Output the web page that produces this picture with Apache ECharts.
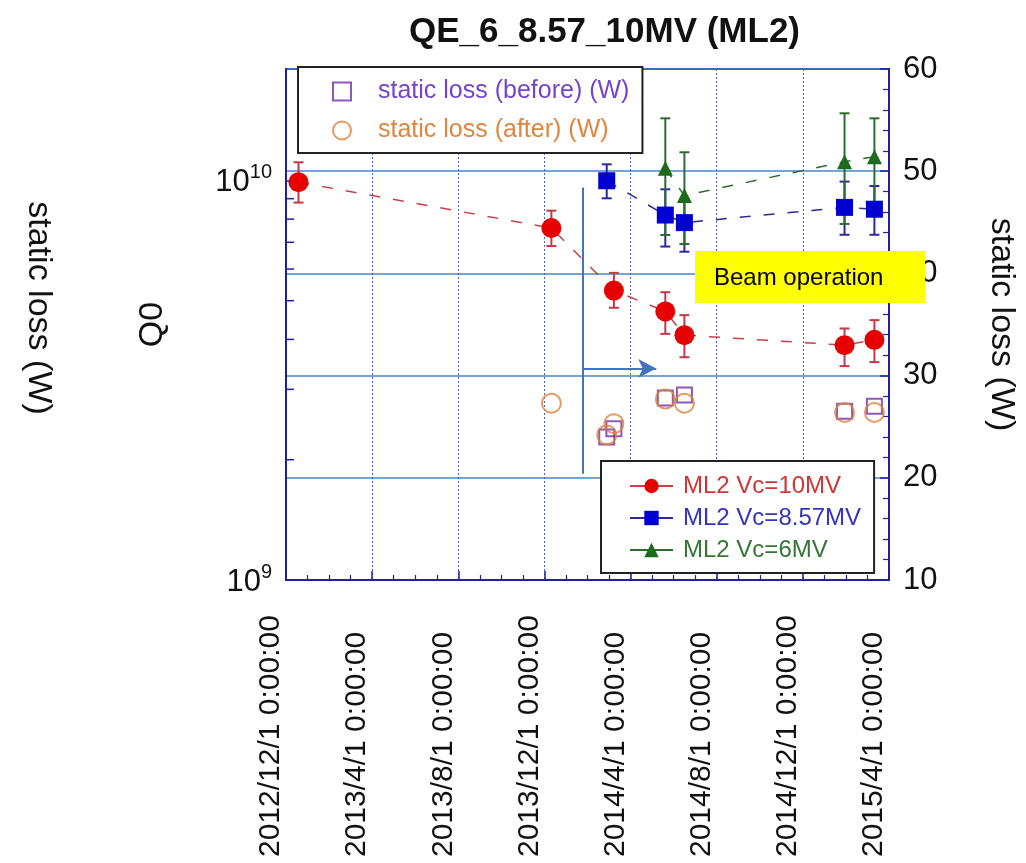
<!DOCTYPE html>
<html><head><meta charset="utf-8">
<script src="https://cdn.jsdelivr.net/npm/echarts@6/dist/echarts.min.js"></script>
<style>html,body{margin:0;padding:0;background:#fff}#c{width:1026px;height:863px}</style>
</head><body><div id="c"></div>
<script>
const FONT = 'Liberation Sans, Arial, sans-serif';

// ---- data ----
const xTickLabels = ['2012/12/1 0:00:00','2013/4/1 0:00:00','2013/8/1 0:00:00','2013/12/1 0:00:00',
  '2014/4/1 0:00:00','2014/8/1 0:00:00','2014/12/1 0:00:00','2015/4/1 0:00:00'];

const dates10 = ['2012-12-19','2013-12-11','2014-03-08','2014-05-20','2014-06-16','2015-01-30','2015-03-11'];
const q10     = [9.9e9, 7.6e9, 5.3e9, 4.7e9, 4.1e9, 3.87e9, 3.99e9];
const q10Lo   = [8.8e9, 6.85e9, 4.8e9, 4.13e9, 3.61e9, 3.43e9, 3.51e9];
const q10Hi   = [1.11e10, 8.4e9, 5.87e9, 5.25e9, 4.6e9, 4.26e9, 4.47e9];

const dates857 = ['2014-02-26','2014-05-20','2014-06-16','2015-01-30','2015-03-11'];
const q857     = [9.98e9, 8.19e9, 7.84e9, 8.56e9, 8.47e9];
const q857Lo   = [9.02e9, 6.83e9, 6.63e9, 7.31e9, 7.31e9];
const q857Hi   = [1.097e10, 9.5e9, 9.0e9, 9.93e9, 9.68e9];

const dates6 = ['2014-05-20','2014-06-16','2015-01-30','2015-03-11'];
const q6     = [1.072e10, 9.16e9, 1.114e10, 1.146e10];
const q6Lo   = [7.3e9, 6.93e9, 7.78e9, 8.6e9];
const q6Hi   = [1.43e10, 1.176e10, 1.472e10, 1.43e10];

const lossDatesBefore = ['2014-02-26','2014-03-08','2014-05-20','2014-06-16','2015-01-30','2015-03-11'];
const lossBefore      = [24.0, 24.8, 27.8, 28.1, 26.5, 27.0];
const lossDatesAfter  = ['2013-12-11','2014-02-26','2014-03-08','2014-05-20','2014-06-16','2015-01-30','2015-03-11'];
const lossAfter       = [27.3, 24.2, 25.3, 27.7, 27.3, 26.4, 26.4];

const q0MinorTicks = [2e9,3e9,4e9,5e9,6e9,7e9,8e9,9e9];

// annotation (beam operation marker), in data units
const beamStart = '2014-01-25';
const beamLineLoss = [48.4, 20.4];
const arrowLoss = 30.7;
const arrowEnd = '2014-05-07';

// ---- helpers ----
function monthIndex(s){
  const [y,m,d] = s.split('-').map(Number);
  const dim = new Date(y, m, 0).getDate();
  return (y-2012)*12 + (m-12) + (d-1)/dim;
}
function pts(dates, vals){ return dates.map((d,i)=>[monthIndex(d), vals[i]]); }
function errs(dates, lo, hi){ return dates.map((d,i)=>[monthIndex(d), lo[i], hi[i]]); }
function errRender(color){
  return function(params, api){
    const x = api.value(0);
    const a = api.coord([x, api.value(1)]);
    const b = api.coord([x, api.value(2)]);
    const w = 5;
    const st = {stroke: color, lineWidth: 2};
    return {type:'group', children:[
      {type:'line', shape:{x1:a[0],y1:a[1],x2:b[0],y2:b[1]}, style:st},
      {type:'line', shape:{x1:a[0]-w,y1:a[1],x2:a[0]+w,y2:a[1]}, style:st},
      {type:'line', shape:{x1:b[0]-w,y1:b[1],x2:b[0]+w,y2:b[1]}, style:st}
    ]};
  };
}
const AX = '#1f1fa0';

const chart = echarts.init(document.getElementById('c'));
chart.setOption({
  animation: false,
  backgroundColor: '#fff',
  textStyle: {fontFamily: FONT},
  title: {text: 'QE_6_8.57_10MV (ML2)', left: 404, top: 10,
    textStyle: {fontSize: 35, fontWeight: 'bold', color: '#111', fontFamily: FONT}},
  grid: {left: 286, right: 135, top: 69, bottom: 283, show: true, borderColor: AX, borderWidth: 2, backgroundColor: 'transparent'},
  legend: [
    {data: [
        {name: 'static loss (before) (W)', textStyle: {color: '#7444cc'}},
        {name: 'static loss (after) (W)', textStyle: {color: '#e0853f'}}
      ],
      orient: 'vertical', left: 298, top: 67, padding: [12, 13, 10, 34], itemGap: 14,
      itemWidth: 18, itemHeight: 18, borderColor: '#222', borderWidth: 2, backgroundColor: '#fff',
      textStyle: {fontSize: 25, fontFamily: FONT, padding: [0, 0, 0, 22]}, selectedMode: false},
    {data: [
        {name: 'ML2 Vc=10MV', textStyle: {color: '#d03535'}},
        {name: 'ML2 Vc=8.57MV', textStyle: {color: '#3333c0'}},
        {name: 'ML2 Vc=6MV', textStyle: {color: '#357535'}}
      ],
      orient: 'vertical', left: 601, top: 461, padding: [13, 13, 11, 28], itemGap: 8,
      itemWidth: 43, itemHeight: 18, borderColor: '#222', borderWidth: 2, backgroundColor: '#fff',
      lineStyle: {type: 'solid'},
      textStyle: {fontSize: 24, fontFamily: FONT, padding: [0,0,0,5]}, selectedMode: false}
  ],
  xAxis: {
    type: 'value', min: 0, max: 28, interval: 4,
    axisLine: {show: true, lineStyle: {color: AX, width: 2}},
    axisTick: {show: true, inside: true, length: 9, lineStyle: {color: AX, width: 1.5}},
    minorTick: {show: true, splitNumber: 4, length: 5, lineStyle: {color: AX, width: 1.2}},
    splitLine: {show: true, lineStyle: {color: '#4a62c8', width: 1, type: [2, 2]}},
    axisLabel: {
      rotate: 90, align: 'left', verticalAlign: 'bottom', margin: 277,
      fontSize: 30, color: '#111', fontFamily: FONT,
      formatter: v => xTickLabels[Math.round(v/4)] || ''
    }
  },
  yAxis: [
    {type: 'log', logBase: 10, min: 1e9, max: 1.9e10, position: 'left',
      name: 'Q0', nameLocation: 'middle', nameGap: 116, nameRotate: 90,
      nameTextStyle: {fontSize: 34, color: '#111', fontFamily: FONT},
      axisLine: {show: true, lineStyle: {color: AX, width: 2}},
      axisTick: {show: true, inside: true, length: 10, lineStyle: {color: AX, width: 1.5}},
      splitLine: {show: false},
      axisLabel: {
        margin: 14, showMaxLabel: false,
        formatter: v => {
          const e = Math.log10(v);
          if (Math.abs(e - Math.round(e)) > 1e-6) return '';
          return '{b|10}{s|' + Math.round(e) + '}';
        },
        rich: {
          b: {fontSize: 31, color: '#111', fontFamily: FONT, lineHeight: 36, verticalAlign: 'bottom'},
          s: {fontSize: 20, color: '#111', fontFamily: FONT, lineHeight: 20, verticalAlign: 'top'}
        }
      }
    },
    {type: 'value', min: 10, max: 60, interval: 10, position: 'right',
      name: 'static loss (W)', nameLocation: 'middle', nameGap: 95, nameRotate: -90,
      nameTextStyle: {fontSize: 34, color: '#111', fontFamily: FONT},
      axisLine: {show: true, lineStyle: {color: AX, width: 2}},
      axisTick: {show: true, inside: true, length: 9, lineStyle: {color: AX, width: 1.5}},
      minorTick: {show: true, splitNumber: 5, length: 6, lineStyle: {color: AX, width: 1.2}},
      splitLine: {show: true, lineStyle: {color: '#4a86c8', width: 1.5}},
      axisLabel: {margin: 14, fontSize: 31, color: '#111', fontFamily: FONT}
    }
  ],
  graphic: [
    {type: 'text', x: 38, y: 308, rotation: -Math.PI/2, z: 50,
      style: {text: 'static loss (W)', fontSize: 34, fontFamily: FONT, fill: '#111', align: 'center', verticalAlign: 'middle'}},
    {type: 'rect', shape: {x: 695, y: 251, width: 230, height: 52}, style: {fill: '#ffff00'}, z: 100},
    {type: 'text', x: 714, y: 278, z: 101,
      style: {text: 'Beam operation', fontSize: 24, fontFamily: FONT, fill: '#000', verticalAlign: 'middle'}}
  ],
  series: [
    {type: 'custom', name: 'q0ticks', yAxisIndex: 0, z: 5, silent: true,
      data: q0MinorTicks.map(v => [0, v]), encode: {x: 0, y: 1},
      renderItem: (params, api) => {
        const p = api.coord([api.value(0), api.value(1)]);
        return {type: 'line', shape: {x1: p[0], y1: p[1], x2: p[0] + 8, y2: p[1]}, style: {stroke: AX, lineWidth: 1.5}};
      }},
    {type: 'custom', name: 'err10', yAxisIndex: 0, z: 2, silent: true,
      data: errs(dates10, q10Lo, q10Hi), encode: {x: 0, y: [1, 2]}, renderItem: errRender('#c23a48')},
    {type: 'custom', name: 'err857', yAxisIndex: 0, z: 2, silent: true,
      data: errs(dates857, q857Lo, q857Hi), encode: {x: 0, y: [1, 2]}, renderItem: errRender('#2a2a9c')},
    {type: 'custom', name: 'err6', yAxisIndex: 0, z: 2, silent: true,
      data: errs(dates6, q6Lo, q6Hi), encode: {x: 0, y: [1, 2]}, renderItem: errRender('#2e6b2e')},
    {type: 'scatter', name: 'static loss (before) (W)', yAxisIndex: 1, z: 3,
      data: pts(lossDatesBefore, lossBefore), symbol: 'rect', symbolSize: 15,
      itemStyle: {color: 'rgba(0,0,0,0)', borderColor: '#7030a8', borderWidth: 2},
      markLine: {silent: true, symbol: ['none', 'none'], label: {show: false}, animation: false,
        lineStyle: {color: '#4472c4', width: 2, type: 'solid'},
        data: [
          [{coord: [monthIndex(beamStart), beamLineLoss[0]]}, {coord: [monthIndex(beamStart), beamLineLoss[1]]}],
          [{coord: [monthIndex(beamStart), arrowLoss]}, {coord: [monthIndex(arrowEnd), arrowLoss], symbol: 'arrow', symbolSize: [14, 18]}]
        ]}
    },
    {type: 'scatter', name: 'static loss (after) (W)', yAxisIndex: 1, z: 3,
      data: pts(lossDatesAfter, lossAfter), symbol: 'circle', symbolSize: 19,
      itemStyle: {color: 'rgba(0,0,0,0)', borderColor: '#e0803a', borderWidth: 2}},
    {type: 'line', name: 'ML2 Vc=10MV', yAxisIndex: 0, z: 4,
      data: pts(dates10, q10), symbol: 'circle', symbolSize: 20,
      itemStyle: {color: '#e60000'}, lineStyle: {color: '#c8404a', width: 1.5, type: [11, 13]}},
    {type: 'line', name: 'ML2 Vc=8.57MV', yAxisIndex: 0, z: 4,
      data: pts(dates857, q857), symbol: 'rect', symbolSize: 17,
      itemStyle: {color: '#0000d0'}, lineStyle: {color: '#2a2a90', width: 1.5, type: [11, 13]}},
    {type: 'line', name: 'ML2 Vc=6MV', yAxisIndex: 0, z: 4,
      data: pts(dates6, q6), symbol: 'triangle', symbolSize: 15,
      itemStyle: {color: '#1d6a1d'}, lineStyle: {color: '#2e6b2e', width: 1.5, type: [11, 13]}}
  ]
});
</script></body></html>
